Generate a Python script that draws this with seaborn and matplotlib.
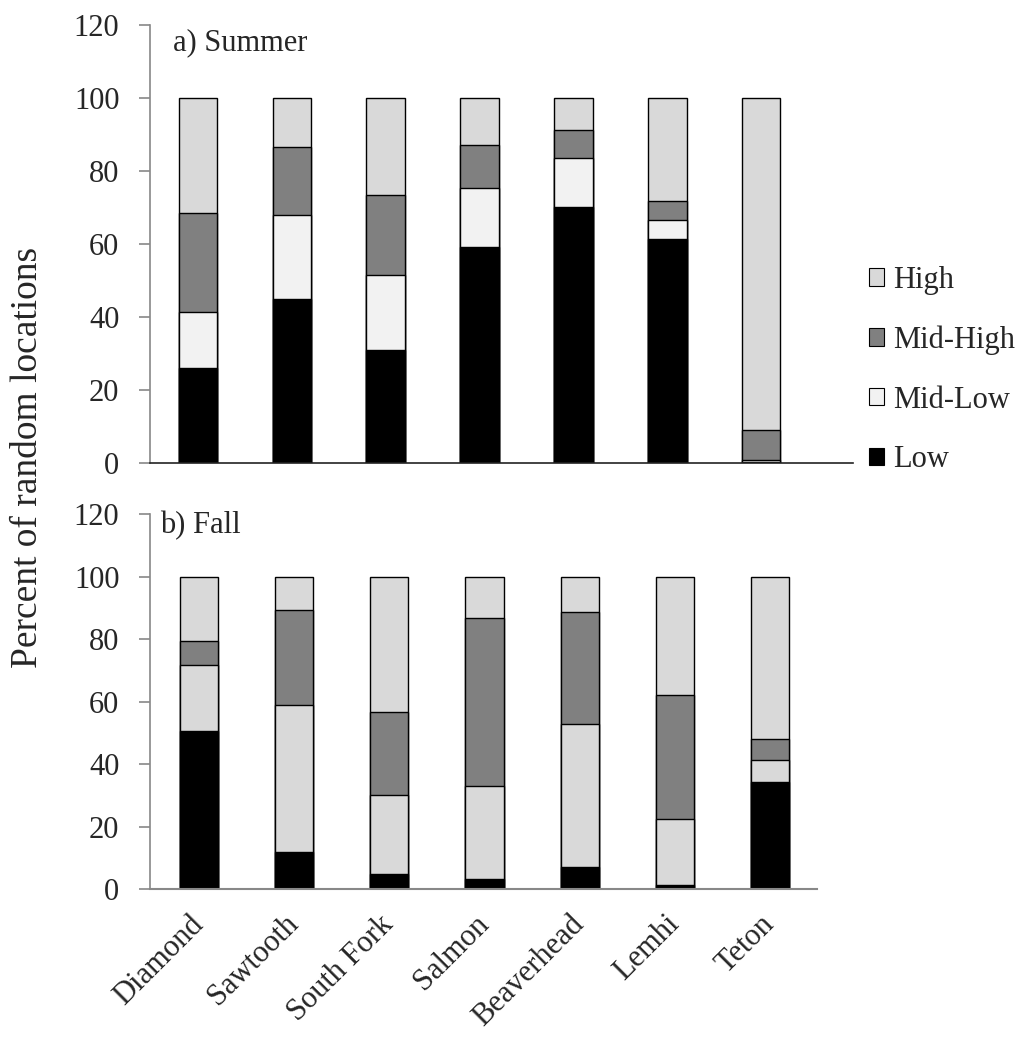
import numpy as np
import pandas as pd
import seaborn as sns
from matplotlib import pyplot as plt
from matplotlib.patches import Patch

sites = ["Diamond", "Sawtooth", "South Fork", "Salmon", "Beaverhead", "Lemhi", "Teton"]
levels = ["High", "Mid-High", "Mid-Low", "Low"]

# percent of random locations per class
summer_low = [26.0, 45.1, 31.0, 59.2, 70.1, 61.4, 0.3]
summer_midlow = [15.4, 22.8, 20.5, 16.2, 13.5, 5.2, 0.5]
summer_midhigh = [27.1, 18.6, 22.0, 11.7, 7.7, 5.1, 8.3]
summer_high = [31.5, 13.5, 26.5, 12.9, 8.7, 28.3, 90.9]

fall_low = [50.7, 11.8, 4.8, 3.2, 7.0, 1.5, 34.3]
fall_midlow = [21.0, 47.2, 25.5, 29.8, 45.7, 21.1, 7.2]
fall_midhigh = [7.6, 30.4, 26.5, 53.8, 36.0, 39.6, 6.6]
fall_high = [20.7, 10.6, 43.2, 13.2, 11.3, 37.8, 51.9]

sns.set_style("white")
plt.rcParams['font.family'] = ['Liberation Serif', 'DejaVu Serif']

fig = plt.figure(figsize=(10.31, 10.40), dpi=100)
ax1 = fig.add_axes([0.1455, 0.5545, 0.682, 0.4214])
ax2 = fig.add_axes([0.1455, 0.1449, 0.647, 0.3609])


def stacked(ax, low, midlow, midhigh, high, colors, width):
    df = pd.DataFrame({"site": sites, "Low": low, "Mid-Low": midlow,
                       "Mid-High": midhigh, "High": high})
    cum = df[["Low", "Mid-Low", "Mid-High", "High"]].cumsum(axis=1)
    # draw tallest first so lower segments sit on top
    for lev in levels:
        sns.barplot(x=df["site"], y=cum[lev], ax=ax, color=colors[lev],
                    width=width, edgecolor="black", linewidth=1.0)
    ax.set_ylim(0, 120)
    ax.set_yticks(range(0, 121, 20))
    ax.set_ylabel("")
    ax.set_xlabel("")
    ax.tick_params(axis="y", labelsize=22, length=8, width=1.2, color="#888888",
                   direction="out", left=True, pad=14)
    ax.tick_params(axis="x", bottom=False, length=0)
    for s in ["top", "right"]:
        ax.spines[s].set_visible(False)
    ax.spines["left"].set_color("#888888")
    ax.spines["left"].set_linewidth(1.2)


summer_colors = {"High": "#d9d9d9", "Mid-High": "#808080", "Mid-Low": "#f2f2f2", "Low": "black"}
fall_colors = {"High": "#d9d9d9", "Mid-High": "#808080", "Mid-Low": "#d9d9d9", "Low": "black"}

stacked(ax1, summer_low, summer_midlow, summer_midhigh, summer_high, summer_colors, 0.41)
stacked(ax2, fall_low, fall_midlow, fall_midhigh, fall_high, fall_colors, 0.4)

ax1.set_xlim(-0.51, 6.98)
ax2.set_xlim(-0.51, 6.49)

ax1.set_xticklabels([])
ax1.spines["bottom"].set_color("#222222")
ax1.spines["bottom"].set_linewidth(1.2)
ax2.spines["bottom"].set_color("#888888")
ax2.spines["bottom"].set_linewidth(1.5)
ax2.set_xticks(range(len(sites)))
ax2.set_xticklabels(sites, rotation=45, ha="right", va="center",
                    rotation_mode="anchor", fontsize=22)
ax2.tick_params(axis="x", pad=22)

fig.text(173 / 1031, 1 - 43 / 1040, "a) Summer", fontsize=22, va="center", ha="left")
fig.text(160 / 1031, 1 - 526 / 1040, "b) Fall", fontsize=22, va="center", ha="left")

fig.text(28 / 1031, 1 - 457 / 1040, "Percent of random locations", rotation=90,
         fontsize=27, ha="center", va="center")

handles = [Patch(facecolor=summer_colors[l], edgecolor="black", linewidth=0.8, label=l)
           for l in levels]
fig.legend(handles=handles, loc="center left", bbox_to_anchor=(869 / 1031, 1 - 370 / 1040),
           frameon=False, fontsize=22, handlelength=0.5, handleheight=0.5,
           handletextpad=0.3, labelspacing=1.0, borderpad=0, borderaxespad=0)

plt.savefig("out.png")
